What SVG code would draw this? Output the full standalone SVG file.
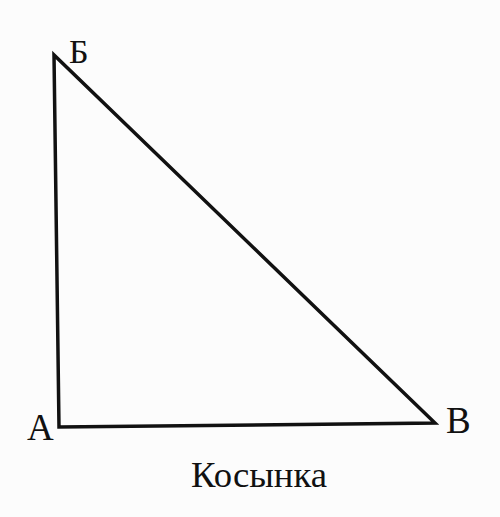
<svg xmlns="http://www.w3.org/2000/svg" width="500" height="517" viewBox="0 0 500 517">
<style>
.lbl{font-family:"Liberation Serif","Times New Roman",serif;fill:#111}
.edge{stroke:#111;stroke-width:3.5;fill:none;stroke-linejoin:miter}
</style>
<rect width="500" height="517" fill="#fcfcfc"/>
<g id="connectors">
<polygon class="edge" points="54,55 59,427 435,423"/>
</g>
<g id="node-B-top"><text class="lbl" x="69" y="63" font-size="34">Б</text></g>
<g id="node-A"><text class="lbl" x="27" y="440" font-size="37">А</text></g>
<g id="node-V"><text class="lbl" x="446" y="433" font-size="37">В</text></g>
<g id="caption"><text class="lbl" x="191" y="487" font-size="36" textLength="136" lengthAdjust="spacingAndGlyphs">Косынка</text></g>
</svg>
